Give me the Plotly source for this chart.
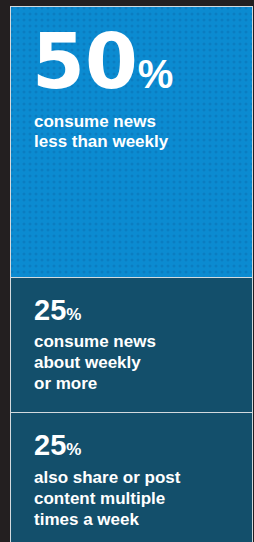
import plotly.graph_objects as go

# ---- data (top segment first) ----
categories = ["less than weekly", "about weekly or more", "share/post multiple times a week"]
values = [50, 25, 25]
big_labels = ["50", "25", "25"]
desc_lines = [
    ["consume news", "less than weekly"],
    ["consume news", "about weekly", "or more"],
    ["also share or post", "content multiple", "times a week"],
]

# ---- style ----
BG = "#231f20"
EDGE = "#d3dade"
FILL = ["#0b8bd1", "#134f6b", "#134f6b"]
FONT = "Liberation Sans"

fig = go.Figure()
# stack from the bottom up (reverse order)
for i in reversed(range(len(values))):
    pattern = dict(shape=".", size=6, solidity=0.22, fgcolor="#0a6fb2") if i == 0 else dict(shape="")
    fig.add_trace(go.Bar(
        x=[0], y=[values[i]], name=categories[i],
        marker=dict(color=FILL[i], line=dict(color=EDGE, width=1.5), pattern=pattern),
        width=1, hoverinfo="skip",
    ))

# segment tops (value units)
tops = []
acc = 0
for v in reversed(values):
    acc += v
    tops.append(acc)
tops = list(reversed(tops))

annotations = []
big_fonts = ["DejaVu Sans", FONT, FONT]
big_sizes = [76, 29, 29]
pct_sizes = [40, 17, 17]
big_shift = [-8, -14, -14]
big_x = [19, 21, 21]
desc_start = [-103, -52, -53]
line_gaps = [20, 21, 21]
for i in range(len(values)):
    annotations.append(dict(
        x=-0.5, y=tops[i], xref="x", yref="y", xanchor="left", yanchor="top",
        xshift=big_x[i], yshift=big_shift[i], showarrow=False,
        text=(f"<b>{big_labels[i]}</b><span style='font-family:{FONT};font-size:{pct_sizes[i]}px'>"
              f"<b>%</b></span>"),
        font=dict(family=big_fonts[i], size=big_sizes[i], color="white"), align="left",
    ))
    for j, line in enumerate(desc_lines[i]):
        annotations.append(dict(
            x=-0.5, y=tops[i], xref="x", yref="y", xanchor="left", yanchor="top",
            xshift=21, yshift=desc_start[i] - j * line_gaps[i], showarrow=False,
            text=f"<b>{line}</b>",
            font=dict(family=FONT, size=17, color="white"), align="left",
        ))

fig.update_layout(
    width=254, height=542,
    margin=dict(l=9, r=0, t=5, b=0),
    paper_bgcolor=BG, plot_bgcolor=BG,
    barmode="stack", bargap=0, showlegend=False,
    xaxis=dict(range=[-0.5062, 0.5062], visible=False, fixedrange=True),
    yaxis=dict(range=[1.2, 100.277], visible=False, fixedrange=True),
    annotations=annotations,
)

fig.write_html("out.html", config={"displayModeBar": False},
               post_script="document.body.style.margin='0';document.body.style.background='#231f20';")
